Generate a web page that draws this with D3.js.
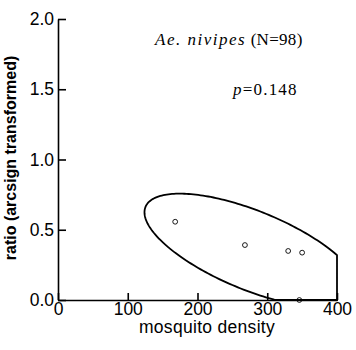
<!DOCTYPE html>
<html>
<head>
<meta charset="utf-8">
<title>Ae. nivipes ratio vs mosquito density</title>
<script src="https://cdn.jsdelivr.net/npm/d3@7"></script>
<style>
  body { margin: 0; background: #fff; }
  .axis text { font-family: "Liberation Sans", Arial, sans-serif; font-size: 17.5px; fill: #000; }
  .axis path, .axis line { stroke: #000; stroke-width: 1.6px; }
</style>
</head>
<body>
<svg id="svg"></svg>
<script>
var width = 356, height = 350,
    margins = {top: 19, left: 58, right: 19, bottom: 50},
    plotW = width - margins.left - margins.right,
    plotH = height - margins.top - margins.bottom;

// data
var densities = [168, 268, 330, 350, 346];
var ratios    = [0.557, 0.391, 0.349, 0.337, 0.0];
var xTicks = [0, 100, 200, 300, 400];
var yTicks = [0.0, 0.5, 1.0, 1.5, 2.0];
// ellipse: centre and two conjugate half-axes, in data units
var ellipseCenter = [278, 0.352];
var ellipseAxisA  = [154, -0.272];
var ellipseAxisB  = [0, 0.30];

var svg = d3.select("#svg").attr("width", width).attr("height", height);

var scaleX = d3.scaleLinear().domain([0, 400]).range([0, plotW]);
var scaleY = d3.scaleLinear().domain([0, 2]).range([plotH, 0]);

var g = svg.append("g")
    .attr("transform", "translate(" + margins.left + "," + margins.top + ")");

// ellipse, cut off at the plot edges (x <= 400, y >= 0)
var angles = d3.range(0, 2 * Math.PI + 0.001, Math.PI / 120);
var ellipsePts = angles.map(function(t) {
  var x = ellipseCenter[0] + ellipseAxisA[0] * Math.cos(t) + ellipseAxisB[0] * Math.sin(t),
      y = ellipseCenter[1] + ellipseAxisA[1] * Math.cos(t) + ellipseAxisB[1] * Math.sin(t);
  return [Math.min(x, scaleX.domain()[1]), Math.max(y, scaleY.domain()[0])];
});
var line = d3.line()
    .x(function(d) { return scaleX(d[0]); })
    .y(function(d) { return scaleY(d[1]); });

g.append("path")
    .datum(ellipsePts)
    .attr("d", line)
    .attr("fill", "none")
    .attr("stroke", "#000")
    .attr("stroke-width", 1.8)
    .attr("stroke-linejoin", "miter");

// x axis
g.append("g")
    .attr("class", "axis")
    .attr("transform", "translate(0," + plotH + ")")
    .call(d3.axisBottom(scaleX).tickValues(xTicks).tickFormat(d3.format("d"))
          .tickSizeInner(-7).tickSizeOuter(0).tickPadding(2.2));

// y axis
g.append("g")
    .attr("class", "axis")
    .call(d3.axisLeft(scaleY).tickValues(yTicks).tickFormat(d3.format(".1f"))
          .tickSizeInner(-8).tickSizeOuter(0).tickPadding(4));

// points
g.selectAll("circle.pt")
    .data(d3.zip(densities, ratios))
  .enter().append("circle")
    .attr("class", "pt")
    .attr("cx", function(d) { return scaleX(d[0]); })
    .attr("cy", function(d) { return scaleY(d[1]); })
    .attr("r", 2.4)
    .attr("fill", "none")
    .attr("stroke", "#000")
    .attr("stroke-width", 0.9);

// axis titles
svg.append("text")
    .attr("x", 207)
    .attr("y", 333)
    .attr("text-anchor", "middle")
    .style("font-family", "Liberation Sans, Arial, sans-serif")
    .style("font-size", "17.5px")
    .style("letter-spacing", "0.3px")
    .text("mosquito density");

svg.append("text")
    .attr("transform", "translate(16,158)rotate(-90)")
    .attr("text-anchor", "middle")
    .style("font-family", "Liberation Sans, Arial, sans-serif")
    .style("font-size", "16px")
    .style("font-weight", "bold")
    .text("ratio (arcsign transformed)");

// annotations
var title = svg.append("text")
    .attr("x", 155)
    .attr("y", 45)
    .style("font-family", "Liberation Serif, Times New Roman, serif")
    .style("font-size", "17px");
title.append("tspan").style("font-style", "italic").style("letter-spacing", "1.5px").text("Ae. nivipes");
title.append("tspan").style("letter-spacing", "0.3px").text(" (N=98)");

var ptext = svg.append("text")
    .attr("x", 233)
    .attr("y", 95)
    .style("font-family", "Liberation Serif, Times New Roman, serif")
    .style("font-size", "17px")
    .style("letter-spacing", "1.2px");
ptext.append("tspan").style("font-style", "italic").text("p");
ptext.append("tspan").text("=0.148");
</script>
</body>
</html>
